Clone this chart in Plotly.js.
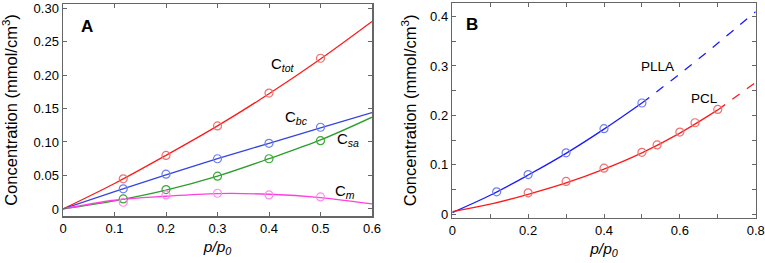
<!DOCTYPE html>
<html><head><meta charset="utf-8">
<script src="https://cdn.plot.ly/plotly-3.0.1.min.js"></script>
<style>html,body{margin:0;padding:0;background:#fff}#chart{width:765px;height:263px}</style>
</head><body><div id="chart"></div>
<script>
// ---- Panel A data ----
const aLineX = [0, 0.1, 0.2, 0.3, 0.4, 0.5, 0.6];
const aTotLine = [0, 0.038, 0.080, 0.124, 0.172, 0.224, 0.280];
const aBcLine  = [0, 0.026, 0.051, 0.075, 0.098, 0.121, 0.144];
const aSaLine  = [0, 0.012, 0.028, 0.049, 0.075, 0.103, 0.137];
const aMLine   = [0, 0.013, 0.019, 0.023, 0.022, 0.017, 0.0075];
const aPtX   = [0.117, 0.2, 0.3, 0.4, 0.5];
const aTotPt = [0.045, 0.080, 0.124, 0.173, 0.225];
const aBcPt  = [0.030, 0.052, 0.075, 0.098, 0.122];
const aSaPt  = [0.015, 0.029, 0.049, 0.075, 0.102];
const aMPt   = [0.010, 0.021, 0.0235, 0.021, 0.018];
// ---- Panel B data ----
const bPllaSolidX = [0, 0.1, 0.2, 0.3, 0.4, 0.5];
const bPllaSolidY = [0.003, 0.038, 0.079, 0.123, 0.172, 0.225];
const bPllaDashX = [0.5, 0.6, 0.7, 0.8];
const bPllaDashY = [0.225, 0.284, 0.346, 0.410];
const bPclSolidX = [0, 0.1, 0.2, 0.3, 0.4, 0.5, 0.6, 0.7];
const bPclSolidY = [0.005, 0.020, 0.040, 0.063, 0.091, 0.124, 0.164, 0.211];
const bPclDashX = [0.7, 0.8];
const bPclDashY = [0.211, 0.267];
const bPllaPtX = [0.117, 0.2, 0.3, 0.4, 0.5];
const bPllaPtY = [0.045, 0.080, 0.124, 0.173, 0.225];
const bPclPtX = [0.2, 0.3, 0.4, 0.5, 0.54, 0.6, 0.64, 0.7];
const bPclPtY = [0.043, 0.066, 0.093, 0.125, 0.140, 0.166, 0.185, 0.212];
// ---- ticks / labels ----
const aXTicks = [0, 0.1, 0.2, 0.3, 0.4, 0.5, 0.6];
const aXText = ['0', '0.1', '0.2', '0.3', '0.4', '0.5', '0.6'];
const aYTicks = [0, 0.05, 0.10, 0.15, 0.20, 0.25, 0.30];
const aYText = ['0', '0.05', '0.10', '0.15', '0.20', '0.25', '0.30'];
const bXTicks = [0, 0.1, 0.2, 0.3, 0.4, 0.5, 0.6, 0.7, 0.8];
const bXText = ['0', '', '0.2', '', '0.4', '', '0.6', '', '0.8'];
const bYTicks = [0, 0.05, 0.1, 0.15, 0.2, 0.25, 0.3, 0.35, 0.4];
const bYText = ['0', '', '0.1', '', '0.2', '', '0.3', '', '0.4'];

const FONT = 'Arial, "Liberation Sans", sans-serif';
const RED = '#ff1a1a', BLUE = '#3344e0', GREEN = '#2a9e2a', MAG = '#ff3fe0', BBLUE = '#1a1aff';

function line(x, y, color, xa, ya, dash) {
  return {x: x, y: y, xaxis: xa, yaxis: ya, mode: 'lines', line: {color: color, width: 1.3, shape: 'spline', dash: dash || 'solid'}, hoverinfo: 'skip', showlegend: false};
}
function pts(x, y, color, xa, ya) {
  return {x: x, y: y, xaxis: xa, yaxis: ya, mode: 'markers', marker: {symbol: 'circle-open', size: 8, color: color, line: {width: 1.2, color: color}}, showlegend: false};
}

const data = [
  line(aLineX, aTotLine, RED, 'x', 'y'),
  line(aLineX, aBcLine, BLUE, 'x', 'y'),
  line(aLineX, aSaLine, GREEN, 'x', 'y'),
  line(aLineX, aMLine, MAG, 'x', 'y'),
  pts(aPtX, aTotPt, '#f07070', 'x', 'y'),
  pts(aPtX, aBcPt, '#6f7ff0', 'x', 'y'),
  pts(aPtX, aSaPt, '#3aa83a', 'x', 'y'),
  pts(aPtX, aMPt, '#ff8cf0', 'x', 'y'),
  line(bPllaSolidX, bPllaSolidY, BBLUE, 'x2', 'y2'),
  line(bPllaDashX, bPllaDashY, BBLUE, 'x2', 'y2', 'dash'),
  line(bPclSolidX, bPclSolidY, RED, 'x2', 'y2'),
  line(bPclDashX, bPclDashY, RED, 'x2', 'y2', 'dash'),
  pts(bPllaPtX, bPllaPtY, '#6f7ff0', 'x2', 'y2'),
  pts(bPclPtX, bPclPtY, '#f07070', 'x2', 'y2')
];

const axBase = {
  showgrid: false, zeroline: false, showline: true, linecolor: '#666', linewidth: 1.5,
  mirror: 'ticks', ticks: 'inside', ticklen: 4, tickwidth: 1, tickcolor: '#666',
  tickmode: 'array', tickfont: {family: FONT, size: 13, color: '#000'}
};
const xTitle = {text: '<i>p/p<sub>0</sub></i>', font: {family: FONT, size: 15.5, color: '#000'}, standoff: 6};
const yTitle = {text: 'Concentration (mmol/cm<sup>3</sup>)', font: {family: FONT, size: 16.5, color: '#000'}};

const layout = {
  width: 765, height: 263, margin: {l: 0, r: 0, t: 0, b: 0},
  paper_bgcolor: '#fff', plot_bgcolor: '#fff', showlegend: false,
  xaxis: Object.assign({}, axBase, {domain: [63/765, 372/765], range: [0, 0.6], tickvals: aXTicks, ticktext: aXText, title: xTitle, anchor: 'y'}),
  yaxis: Object.assign({}, axBase, {domain: [1-216/263, 1-4/263], range: [-0.0105, 0.306], tickvals: aYTicks, ticktext: aYText, title: Object.assign({}, yTitle, {standoff: 12}), anchor: 'x'}),
  xaxis2: Object.assign({}, axBase, {domain: [452.3/765, 755.7/765], range: [0, 0.8], tickvals: bXTicks, ticktext: bXText, title: xTitle, anchor: 'y2'}),
  yaxis2: Object.assign({}, axBase, {domain: [1-217.5/263, 1-3.3/263], range: [-0.007, 0.427], tickvals: bYTicks, ticktext: bYText, title: Object.assign({}, yTitle, {standoff: 9}), anchor: 'x2'}),
  annotations: [
    {text: '<b>A</b>', xref: 'x', yref: 'y', x: 0.047, y: 0.273, showarrow: false, font: {family: FONT, size: 17, color: '#000'}},
    {text: '<b>B</b>', xref: 'x2', yref: 'y2', x: 0.052, y: 0.385, showarrow: false, font: {family: FONT, size: 17, color: '#000'}},
    {text: 'C<sub><i>tot</i></sub>', xref: 'x', yref: 'y', x: 0.427, y: 0.215, showarrow: false, font: {family: FONT, size: 15, color: '#000'}},
    {text: 'C<sub><i>bc</i></sub>', xref: 'x', yref: 'y', x: 0.454, y: 0.137, showarrow: false, font: {family: FONT, size: 15, color: '#000'}},
    {text: 'C<sub><i>sa</i></sub>', xref: 'x', yref: 'y', x: 0.553, y: 0.103, showarrow: false, font: {family: FONT, size: 15, color: '#000'}},
    {text: 'C<sub><i>m</i></sub>', xref: 'x', yref: 'y', x: 0.548, y: 0.026, showarrow: false, font: {family: FONT, size: 15, color: '#000'}},
    {text: 'PLLA', xref: 'x2', yref: 'y2', x: 0.542, y: 0.298, showarrow: false, font: {family: FONT, size: 13.5, color: '#000'}},
    {text: 'PCL', xref: 'x2', yref: 'y2', x: 0.666, y: 0.235, showarrow: false, font: {family: FONT, size: 13.5, color: '#000'}}
  ]
};

Plotly.newPlot('chart', data, layout, {staticPlot: true, displayModeBar: false});
</script></body></html>
